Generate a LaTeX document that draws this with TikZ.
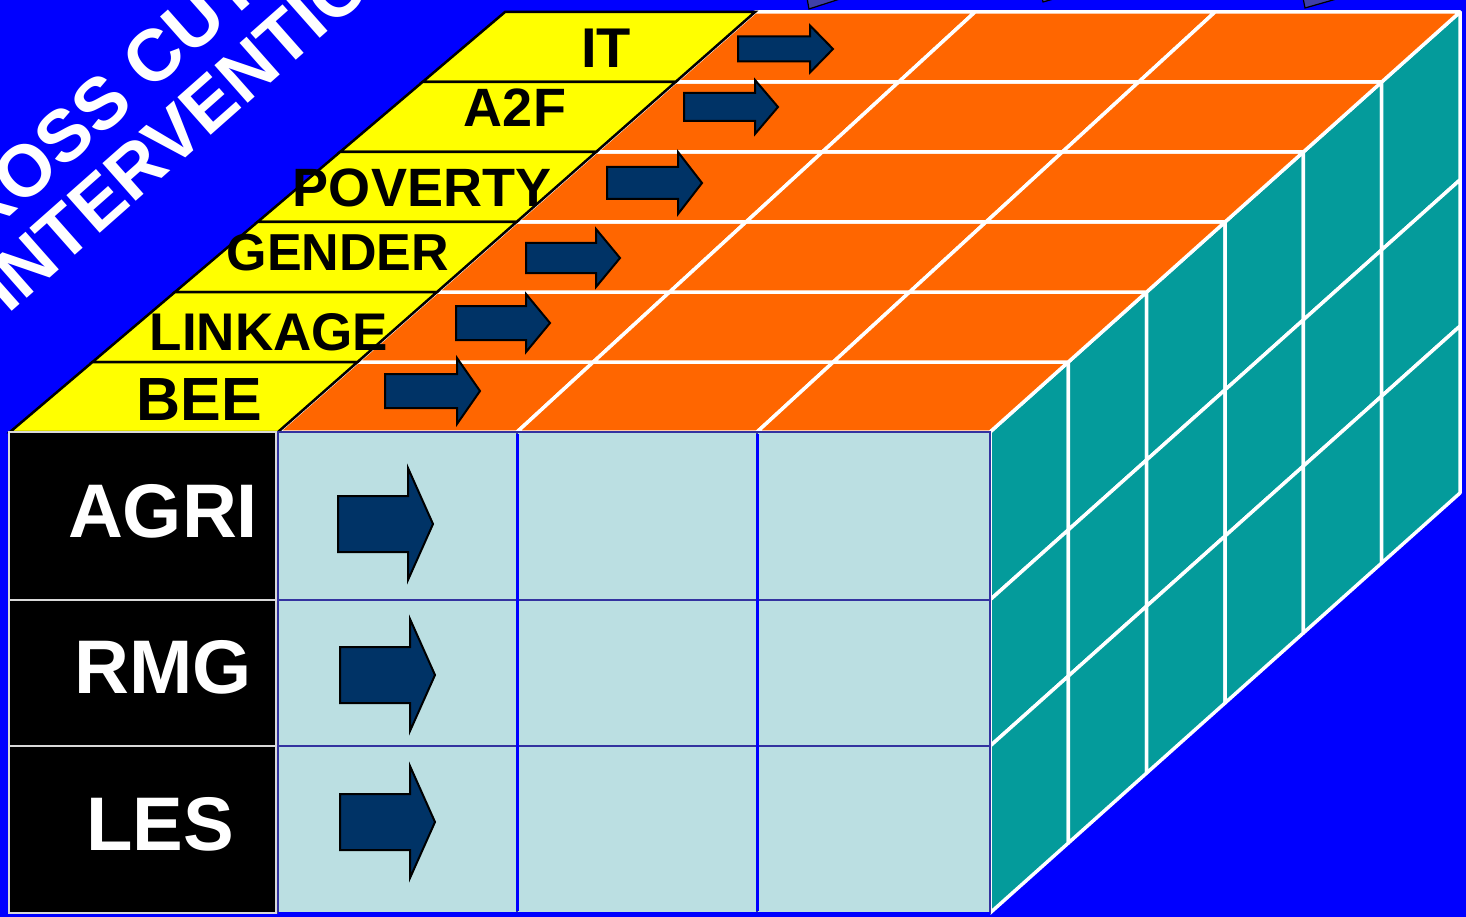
\documentclass[tikz,border=0pt]{standalone}
\usepackage{fontspec}
\setmainfont{Liberation Sans}
\definecolor{bgblue}{HTML}{0000FF}
\definecolor{yel}{HTML}{FFFF00}
\definecolor{org}{HTML}{FF6600}
\definecolor{teal2}{HTML}{049B9B}
\definecolor{lblue}{HTML}{BBDFE2}
\definecolor{navy}{HTML}{003366}
\definecolor{cellline}{HTML}{3333A0}
\definecolor{ghost}{HTML}{4040A8}
\tikzset{
  arrowst/.style={fill=navy, draw=black, line width=2pt, line join=miter},
  orangecell/.style={fill=org, draw=white, line width=3.5pt, line join=round},
  tealcell/.style={fill=teal2, draw=white, line width=3.5pt, line join=round},
  yellowstrip/.style={fill=yel, draw=black, line width=2.5pt, line join=miter},
  frontcell/.style={fill=lblue, draw=cellline, line width=2.5pt},
  labelcell/.style={fill=black, draw=white!85!black, line width=1.5pt},
  toplabel/.style={inner sep=0pt, anchor=base, font=\bfseries, text=black},
  sidelabel/.style={inner sep=0pt, anchor=base, text=white, font=\bfseries\fontsize{76}{80}\selectfont},
  titletext/.style={inner sep=0pt, anchor=base west, rotate=41.5, text=white, font=\bfseries\fontsize{73}{77}\selectfont}
}
\newcommand{\barrow}[6]{%
  \draw[arrowst] (#1,{#2-#5}) -- ({#1+#3},{#2-#5}) -- ({#1+#3},{#2-#6}) -- ({#1+#3+#4},#2) -- ({#1+#3},{#2+#6}) -- ({#1+#3},{#2+#5}) -- (#1,{#2+#5}) -- cycle;}
\begin{document}
\begin{tikzpicture}[x=1pt,y=-1pt]
\useasboundingbox (0,0) rectangle (1466,917);
\fill[bgblue] (0,0) rectangle (1466,917);
% title
\node[titletext] (t1) at (-59,278) {CROSS CUTTING};
\node[titletext] (t2) at (8,315) {INTERVENTIONS};
% ghost arrow bits at top
\draw[fill=ghost, draw=black, line width=1.2pt] (807,-2) -- (809,9) -- (843,-2) -- cycle;
\draw[fill=ghost, draw=black, line width=1.2pt] (1042,-2) -- (1043,2) -- (1057,-2) -- cycle;
\draw[fill=ghost, draw=black, line width=1.2pt] (1303,-2) -- (1305,8) -- (1340,-2) -- cycle;
% right face (teal)
\foreach \j in {0,...,5} {
  \foreach \fa/\fb in {0/0.349, 0.349/0.653, 0.653/1} {
    \pgfmathsetmacro\xa{990+470*\j/6}
    \pgfmathsetmacro\xb{990+470*(\j+1)/6}
    \pgfmathsetmacro\ya{432-70*\j}
    \pgfmathsetmacro\yb{432-70*(\j+1)}
    \draw[tealcell] (\xa,{\ya+481*\fa}) -- (\xb,{\yb+481*\fa}) -- (\xb,{\yb+481*\fb}) -- (\xa,{\ya+481*\fb}) -- cycle;
  }
}
\draw[bgblue, line width=3pt] (990,430) -- (1460,10);
% top face (orange)
\foreach \k in {0,...,5} {
  \foreach \fa/\ba/\fb/\bb in {278/755/517/975, 517/975/757/1215, 757/1215/990/1460} {
    \pgfmathsetmacro\yb{432-70*\k}
    \pgfmathsetmacro\yt{362-70*\k}
    \pgfmathsetmacro\sb{\k/6}
    \pgfmathsetmacro\st{(\k+1)/6}
    \draw[orangecell] ({\fa+(\ba-\fa)*\sb},\yb) -- ({\fb+(\bb-\fb)*\sb},\yb) -- ({\fb+(\bb-\fb)*\st},\yt) -- ({\fa+(\ba-\fa)*\st},\yt) -- cycle;
  }
}
% yellow strips, back to front
\foreach \k in {5,4,...,0} {
  \pgfmathsetmacro\yb{432-70*\k}
  \pgfmathsetmacro\yt{362-70*\k}
  \pgfmathsetmacro\sb{\k/6}
  \pgfmathsetmacro\st{(\k+1)/6}
  \draw[yellowstrip] ({10+495*\sb},\yb) -- ({278+477*\sb},\yb) -- ({278+477*\st},\yt) -- ({10+495*\st},\yt) -- cycle;
}
% front face
\foreach \ya/\yb in {432/600, 600/746, 746/913} {
  \draw[labelcell] (9,\ya) rectangle (276,\yb);
  \foreach \xa/\xb in {278/517, 517/757, 757/990} {
    \draw[frontcell] (\xa,\ya) rectangle (\xb,\yb);
  }
}
\draw[bgblue, line width=3pt] (517,434) -- (517,911);
\draw[bgblue, line width=3pt] (757,434) -- (757,911);
\draw[bgblue, line width=3pt] (278,913) -- (990,913);
% labels
\node[toplabel, font=\bfseries\fontsize{56}{60}\selectfont] (it) at (606,68) {IT};
\node[toplabel, font=\bfseries\fontsize{54}{58}\selectfont] (a2f) at (515,127) {A2F};
\node[toplabel, font=\bfseries\fontsize{54}{58}\selectfont] (pov) at (422,207) {POVERTY};
\node[toplabel, font=\bfseries\fontsize{52}{56}\selectfont] (gen) at (338,270) {GENDER};
\node[toplabel, font=\bfseries\fontsize{53}{57}\selectfont] (lnk) at (269,350) {LINKAGE};
\node[toplabel, font=\bfseries\fontsize{61}{65}\selectfont] (bee) at (199,420) {BEE};
\node[sidelabel] (agri) at (163,537) {AGRI};
\node[sidelabel] (rmg) at (163,693) {RMG};
\node[sidelabel] (les) at (160,850) {LES};
% arrows on top face
\barrow{385}{391}{72}{23}{17}{33}
\barrow{456}{323}{70}{24}{17}{29}
\barrow{526}{258}{70}{24}{15}{29}
\barrow{607}{183}{71}{24}{16}{31}
\barrow{684}{107}{71}{23}{14}{27}
\barrow{738}{49}{72}{23}{12.5}{23.5}
% arrows on front face
\barrow{338}{524}{70}{25}{28}{56}
\barrow{340}{675}{70}{25}{28}{56}
\barrow{340}{822}{70}{25}{28}{56}
\end{tikzpicture}
\end{document}
